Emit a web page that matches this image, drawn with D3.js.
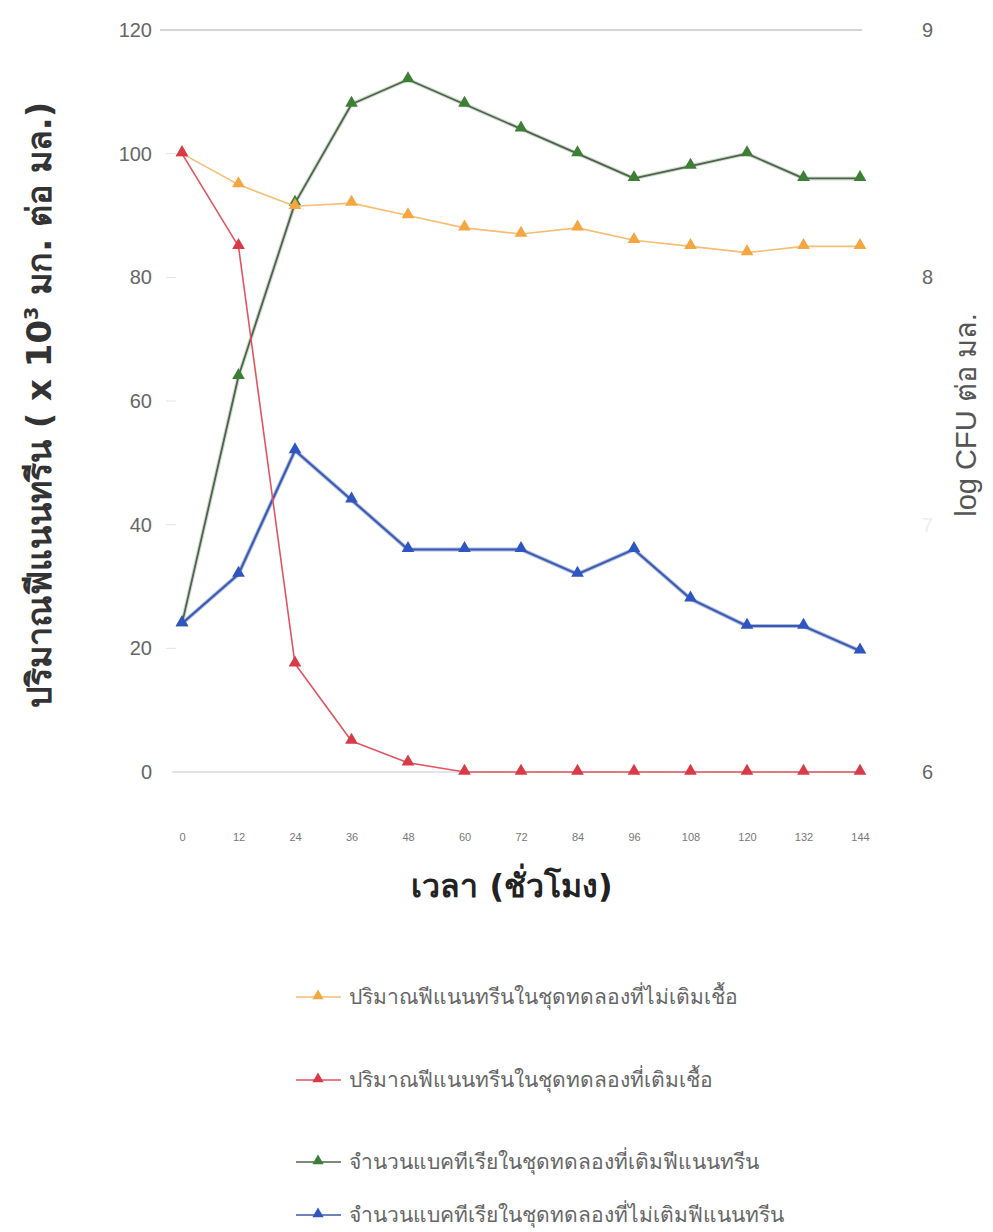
<!DOCTYPE html>
<html><head><meta charset="utf-8">
<script src="https://cdn.jsdelivr.net/npm/d3@7"></script>
<style>
html,body{margin:0;padding:0;background:#fff;}
svg{display:block;}
</style></head>
<body>
<svg id="chart" width="993" height="1232"></svg>
<script>
const hours = [0,12,24,36,48,60,72,84,96,108,120,132,144];
const leftTicks = [0,20,40,60,80,100,120];
const rightTicks = [6,7,8,9];
// phenanthrene (x10^-3 mg/ml), left axis
const phenNoInoc = [100,95,91.5,92,90,88,87,88,86,85,84,85,85];
const phenInoc   = [100,85,17.5,5,1.5,0,0,0,0,0,0,0,0];
// bacteria (log CFU/ml), right axis
const bactWithPhen = [6.6,7.6,8.3,8.7,8.8,8.7,8.6,8.5,8.4,8.45,8.5,8.4,8.4];
const bactNoPhen   = [6.6,6.8,7.3,7.1,6.9,6.9,6.9,6.8,6.9,6.7,6.59,6.59,6.49];
const legendLabels = [
  "ปริมาณฟีแนนทรีนในชุดทดลองที่ไม่เติมเชื้อ",
  "ปริมาณฟีแนนทรีนในชุดทดลองที่เติมเชื้อ",
  "จำนวนแบคทีเรียในชุดทดลองที่เติมฟีแนนทรีน",
  "จำนวนแบคทีเรียในชุดทดลองที่ไม่เติมฟีแนนทรีน"
];

const svg = d3.select("#chart");
const x = d3.scaleLinear().domain([0,144]).range([182,860]);
const yL = d3.scaleLinear().domain([0,120]).range([772,30]);
const yR = d3.scaleLinear().domain([6,9]).range([772,30]);

// top gridline
svg.append("line").attr("x1",160).attr("x2",862).attr("y1",yL(120)).attr("y2",yL(120))
  .attr("stroke","#aaa").attr("stroke-width",1);
// bottom baseline
svg.append("line").attr("x1",172).attr("x2",860).attr("y1",yL(0)).attr("y2",yL(0))
  .attr("stroke","#c8c8d8").attr("stroke-width",1);
// faint left axis ticks
svg.append("g").selectAll("line").data(leftTicks.slice(1,-1)).join("line")
  .attr("x1",166).attr("x2",176).attr("y1",d=>yL(d)).attr("y2",d=>yL(d))
  .attr("stroke","#e2e2e2");

// left axis labels
const gl = svg.append("g").attr("transform","translate(152,0)")
  .call(d3.axisLeft(yL).tickValues(leftTicks).tickSize(0).tickPadding(0));
gl.select(".domain").remove();
gl.selectAll("text").attr("font-family","Liberation Sans, Arial, sans-serif")
  .attr("font-size",20).attr("fill","#666");

// right axis labels
const gr = svg.append("g").attr("transform","translate(922,0)")
  .call(d3.axisRight(yR).tickValues(rightTicks).tickFormat(d3.format("d")).tickSize(0).tickPadding(0));
gr.select(".domain").remove();
gr.selectAll("text").attr("font-family","Liberation Sans, Arial, sans-serif")
  .attr("font-size",20).attr("fill",d=>d===7?"#eee":"#666");

// x axis labels
const gx = svg.append("g").attr("transform","translate(0,833)")
  .call(d3.axisBottom(x).tickValues(hours).tickSize(0).tickPadding(0));
gx.select(".domain").remove();
gx.selectAll("text").attr("font-family","Liberation Sans Narrow, Liberation Sans, sans-serif")
  .attr("font-size",11).attr("fill","#777");

// titles
svg.append("text").attr("x",512).attr("y",897).attr("text-anchor","middle")
  .attr("font-family","DejaVu Sans, sans-serif").attr("font-weight","bold")
  .attr("font-size",32).attr("fill","#222").text("เวลา (ชั่วโมง)");

const yt = svg.append("text").attr("transform","translate(51,405) rotate(-90)")
  .attr("text-anchor","middle").attr("font-family","DejaVu Sans, sans-serif")
  .attr("font-weight","bold").attr("font-size",34).attr("fill","#333");
yt.append("tspan").text("ปริมาณฟีแนนทรีน ( x 10");
yt.append("tspan").attr("font-size",19).attr("dy",-13).text("3");
yt.append("tspan").attr("dy",13).text(" มก. ต่อ มล.)");

svg.append("text").attr("transform","translate(976,415) rotate(-90)")
  .attr("text-anchor","middle").attr("font-family","Liberation Sans, DejaVu Sans, sans-serif")
  .attr("font-size",29).attr("fill","#555").text("log CFU ต่อ มล.");

const series = [
  {vals:phenNoInoc, y:yL, line:"#f7bd74", mark:"#f4a640", w:1.6, halo:null},
  {vals:phenInoc,   y:yL, line:"#e05560", mark:"#d93a48", w:1.6, halo:null},
  {vals:bactWithPhen, y:yR, line:"#4f634b", mark:"#3d7f35", w:1.8, halo:"#d0ddd0"},
  {vals:bactNoPhen, y:yR, line:"#3b5aa8", mark:"#2f55c0", w:2, halo:"#aab9ea"}
];
const tri = d3.symbol().type(d3.symbolTriangle).size(70);

// draw in order: green, blue, orange, red on top
[2,3,0,1].forEach(i=>{
  const s = series[i];
  const data = hours.map((h,j)=>({h, v:s.vals[j]}));
  const line = d3.line().x(d=>x(d.h)).y(d=>s.y(d.v));
  if (s.halo) svg.append("path").datum(data).attr("d",line).attr("fill","none")
     .attr("stroke",s.halo).attr("stroke-width",4).attr("stroke-linejoin","round");
  svg.append("path").datum(data).attr("d",line).attr("fill","none")
     .attr("stroke",s.line).attr("stroke-width",s.w).attr("stroke-linejoin","round");
  svg.append("g").selectAll("path").data(data).join("path")
     .attr("d",tri).attr("transform",d=>`translate(${x(d.h)},${s.y(d.v)-1})`)
     .attr("fill",s.mark);
});

// legend
const legY = [997,1080,1162,1215];
series.forEach((s,i)=>{
  const g = svg.append("g").attr("transform",`translate(0,${legY[i]})`);
  g.append("line").attr("x1",296).attr("x2",341).attr("y1",0).attr("y2",0)
    .attr("stroke",s.line).attr("stroke-width",1.5);
  g.append("path").attr("d",d3.symbol().type(d3.symbolTriangle).size(55)).attr("transform","translate(318,-1)")
    .attr("fill",s.mark);
  g.append("text").attr("x",349).attr("y",7).attr("font-family","DejaVu Sans, sans-serif")
    .attr("font-size",21).attr("fill","#666").text(legendLabels[i]);
});
</script>
</body></html>
